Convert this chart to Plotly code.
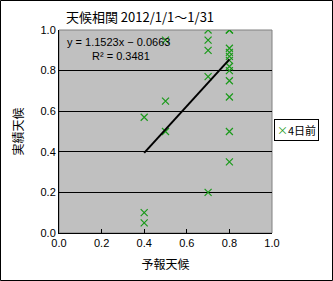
import plotly.graph_objects as go

# Data (forecast vs actual weather, 4 days before)
forecast = [0.4, 0.4, 0.4,
            0.5, 0.5, 0.5,
            0.7, 0.7, 0.7, 0.7, 0.7,
            0.8, 0.8, 0.8, 0.8, 0.8, 0.8, 0.8, 0.8, 0.8, 0.8, 0.8, 0.8]
actual = [0.57, 0.10, 0.05,
          0.95, 0.65, 0.50,
          1.00, 0.95, 0.90, 0.77, 0.20,
          1.00, 1.00, 0.91, 0.89, 0.87, 0.85, 0.82, 0.80, 0.75, 0.67, 0.50, 0.35]
series_name = "4日前"
slope = 1.1523
intercept = -0.0663
r2 = 0.3481
tick_vals = [0.0, 0.2, 0.4, 0.6, 0.8, 1.0]
tick_text = ["0.0", "0.2", "0.4", "0.6", "0.8", "1.0"]

W, H = 333, 281
L, R, T, B = 59, 61, 30, 48
pw, ph = W - L - R, H - T - B
green = "#1a9a1a"

font = "Noto Sans CJK JP"
fig = go.Figure()
fig.add_trace(go.Scatter(
    x=forecast, y=actual, mode="markers", name=series_name,
    marker=dict(symbol="x-thin-open", size=7, color=green,
                line=dict(color=green, width=1.2)),
))
xmin, xmax = min(forecast), max(forecast)
fig.add_trace(go.Scatter(
    x=[xmin, xmax], y=[slope * xmin + intercept, slope * xmax + intercept],
    mode="lines", line=dict(color="black", width=2), showlegend=False,
    hoverinfo="skip",
))

def px(xp):
    return (xp - L) / pw

def py(yp):
    return (H - B - yp) / ph

fig.update_layout(
    width=W, height=H,
    margin=dict(l=L, r=R, t=T, b=B),
    paper_bgcolor="white", plot_bgcolor="#c0c0c0",
    font=dict(family=font, size=11, color="black"),
    title=dict(text="天候相関 2012/1/1～1/31", xref="container",
               x=140 / W, xanchor="center",
               y=1 - 17 / H, yanchor="middle",
               font=dict(family=font, size=13, color="black")),
    xaxis=dict(range=[0, 1], tickvals=tick_vals, ticktext=tick_text,
               showgrid=False, zeroline=False, showline=True, linecolor="black",
               linewidth=1, ticks="inside", ticklen=4, tickcolor="black",
               title=dict(text="予報天候", font=dict(size=12), standoff=12),
               tickfont=dict(family="Liberation Sans", size=11)),
    yaxis=dict(range=[0, 1], tickvals=tick_vals, ticktext=tick_text,
               showgrid=True, gridcolor="black", gridwidth=1, zeroline=False,
               showline=True, linecolor="black", linewidth=1, ticks="",
               title=dict(text="実績天候", font=dict(size=12), standoff=14),
               tickfont=dict(family="Liberation Sans", size=11)),
    showlegend=False,
)

# plot area border (gray) and outer chart border (black)
fig.add_shape(type="rect", xref="paper", yref="paper", x0=0, y0=0, x1=1, y1=1,
              line=dict(color="#808080", width=1), layer="below")
fig.add_shape(type="rect", xref="paper", yref="paper",
              x0=px(0.5), x1=px(W - 0.5), y0=py(H - 0.5), y1=py(0.5),
              line=dict(color="black", width=1))

# legend (manual box)
fig.add_annotation(xref="paper", yref="paper", x=px(274), y=py(130),
                   xanchor="left", yanchor="middle", showarrow=False,
                   text=f"<span style='color:{green}'>×</span>{series_name}",
                   font=dict(family=font, size=11, color="black"),
                   bordercolor="black", borderwidth=1, borderpad=2,
                   bgcolor="white")

fig.add_annotation(xref="paper", yref="paper", x=px(65), y=py(42),
                   xanchor="left", yanchor="middle", showarrow=False,
                   text=f"y = {slope}x − {abs(intercept):.4f}",
                   font=dict(family="Liberation Sans", size=11))
fig.add_annotation(xref="paper", yref="paper", x=px(90), y=py(56),
                   xanchor="left", yanchor="middle", showarrow=False,
                   text=f"R² = {r2}",
                   font=dict(family="Liberation Sans", size=11))

fig.write_html("out.html")
